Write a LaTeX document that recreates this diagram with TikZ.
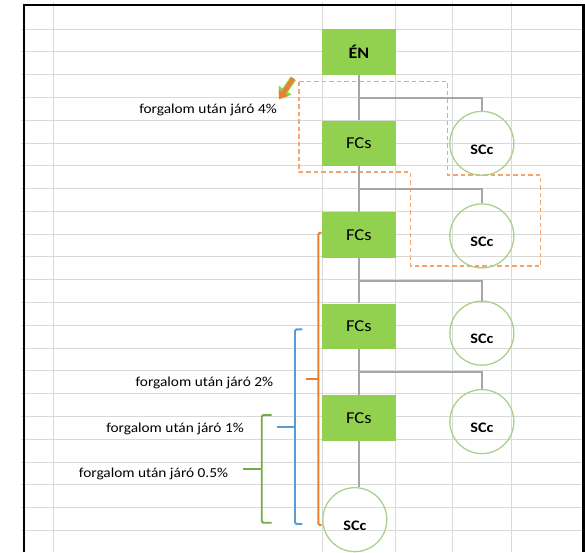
\documentclass[tikz,border=0pt]{standalone}
\usepackage{fontspec}
\setmainfont{Carlito}[FakeStretch=1.12]
\usetikzlibrary{positioning, arrows.meta, calc}

\definecolor{boxgreen}{HTML}{92D050}
\definecolor{ringgreen}{HTML}{A9D18E}
\definecolor{linkgray}{HTML}{A6A6A6}
\definecolor{gridgray}{HTML}{D9D9D9}
\definecolor{xlorange}{HTML}{ED7D31}
\definecolor{dashorange}{HTML}{F4A470}
\definecolor{xlblue}{HTML}{5B9BD5}
\definecolor{xlgreen}{HTML}{70AD47}

\tikzset{
	gridline/.style={draw=gridgray, line width=0.9pt},
	box/.style={fill=boxgreen, minimum width=73.7pt, minimum height=45.6pt, inner sep=0pt, font=\fontsize{16.6}{19}\selectfont},
	scc/.style={circle, draw=ringgreen, line width=1.3pt, minimum size=64pt, inner sep=0pt,
		label={[font=\bfseries\fontsize{14.5}{17}\selectfont, yshift=-6pt]center:SCc}},
	link/.style={draw=linkgray, line width=2.1pt},
	cell/.style={anchor=east, inner sep=0pt, font=\fontsize{13.7}{16}\selectfont},
	brace/.style={line width=1.9pt, rounded corners=1.5pt}
}

\begin{document}
\begin{tikzpicture}[x=1pt, y=-1pt]
	\useasboundingbox (0,0) rectangle (585,552);

	\foreach \k in {0,...,22}
		\draw[gridline] (21,{29+22.79*\k}) -- (583,{29+22.79*\k});
	\foreach \gx in {53.3,322,395.7,452.3,511.7}
		\draw[gridline] (\gx,2) -- (\gx,552);
	\draw[line width=2pt] (24,552) -- (24,5) -- (583,5);
	\draw[line width=3pt] (583.5,4) -- (583.5,552);

	\draw[dashorange, line width=1.6pt, dash pattern=on 4.5pt off 3pt]
		(299,81.5) -- (447.5,81.5) -- (447.5,175) -- (540.5,175) -- (540.5,266)
		-- (410.5,266) -- (410.5,172) -- (299,172) -- cycle;

	\node[box, font=\bfseries\fontsize{16}{19}\selectfont] (en) at (358.85,51.8) {ÉN};
	\node[box, below=45.55pt of en] (f1) {FCs};
	\node[box, below=45.55pt of f1] (f2) {FCs};
	\node[box, below=45.55pt of f2] (f3) {FCs};
	\node[box, below=45.55pt of f3] (f4) {FCs};

	\node[scc, right=53.3pt of f1] (s1) {};
	\node[scc, right=53.3pt of f2, yshift=-1pt] (s2) {};
	\node[scc, right=53.3pt of f3, yshift=-6.7pt] (s3) {};
	\node[scc, right=53.3pt of f4, yshift=-3.6pt] (s4) {};
	\node[scc, below=46pt of f4, xshift=-4pt] (s5) {};

	\coordinate (j1) at ($(en.south)!0.5!(f1.north)$);
	\coordinate (j2) at ($(f1.south)!0.5!(f2.north)$);
	\coordinate (j3) at ($(f2.south)!0.5!(f3.north)$);
	\coordinate (j4) at ($(f3.south)!0.5!(f4.north)$);

	\draw[link]
		(en) -- (f1)
		(f1) -- (f2)
		(f2) -- (f3)
		(f3) -- (f4)
		(f4.south) -- (f4.south |- s5.north)
		(j1) -| (s1.north)
		(j2) -| (s2.north)
		(j3) -| (s3.north)
		(j4) -| (s4.north);

	\node[cell] (p4) at (277,109.5) {forgalom után járó 4\%};
	\node[cell] (p2) at (273.3,383) {forgalom után járó 2\%};
	\node[cell] (p1) at (244,428.5) {forgalom után járó 1\%};
	\node[cell] (p05) at (228.3,474) {forgalom után járó 0.5\%};

	\coordinate (tail) at (293.3,78.3);
	\coordinate (head) at (279,99.3);
	\draw[boxgreen, line width=6.5pt, -{Triangle[width=15pt,length=11pt]}] (tail) -- (head);
	\draw[xlorange, line width=4pt, -{Triangle[width=11pt,length=8pt]}] (tail) -- (head);

	\draw[brace, xlorange] (321.7,232.7) -- (318.3,232.7) -- (318.3,525) -- (321.7,525);
	\draw[brace, xlorange] (318.3,379) -- (306,379);
	\draw[brace, xlblue] (302.3,329.3) -- (295,329.3) -- (295,524) -- (302.3,524);
	\draw[brace, xlblue] (295,427.3) -- (277.3,427.3);
	\draw[brace, xlgreen] (271.7,415) -- (261.7,415) -- (261.7,522.7) -- (271.7,522.7);
	\draw[brace, xlgreen] (261.7,469.3) -- (243.3,469.3);
\end{tikzpicture}
\end{document}
